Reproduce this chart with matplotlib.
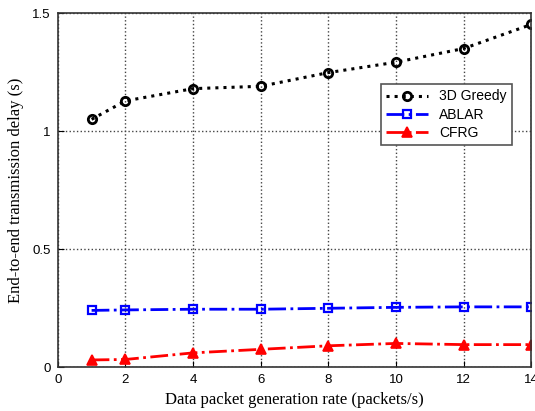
import matplotlib.pyplot as plt

# packet generation rates (packets/s)
rate = [1, 2, 4, 6, 8, 10, 12, 14]

# end-to-end delay (s) for each protocol
greedy = [1.05, 1.128, 1.18, 1.19, 1.248, 1.292, 1.35, 1.452]
ablar = [0.24, 0.242, 0.245, 0.245, 0.249, 0.253, 0.255, 0.255]
cfrg = [0.03, 0.032, 0.06, 0.075, 0.09, 0.1, 0.095, 0.095]

xticks = [0, 2, 4, 6, 8, 10, 12, 14]
yticks = [0, 0.5, 1, 1.5]

fig = plt.figure(figsize=(5.35, 4.11), dpi=100)
ax = fig.add_axes([0.108, 0.107, 0.885, 0.861])

ax.plot(rate, greedy, color="black", linestyle=":", linewidth=2.2,
        marker="o", markersize=6, markerfacecolor="none", markeredgewidth=2,
        label="3D Greedy")
ax.plot(rate, ablar, color="blue", linestyle="-.", linewidth=2,
        marker="s", markersize=6, markerfacecolor="none", markeredgewidth=1.6,
        label="ABLAR")
ax.plot(rate, cfrg, color="red", linestyle="-.", linewidth=2,
        marker="^", markersize=7, markerfacecolor="red", markeredgewidth=1.2,
        label="CFRG")

ax.set_xlim(0, 14)
ax.set_ylim(0, 1.5)
ax.set_xticks(xticks)
ax.set_yticks(yticks)
ax.set_yticklabels(["0", "0.5", "1", "1.5"])
ax.tick_params(direction="in", labelsize=9.5, length=4, pad=5)
for lab in ax.get_xticklabels() + ax.get_yticklabels():
    lab.set_fontfamily("Liberation Sans")
ax.grid(True, linestyle=":", color="#444444", linewidth=1)
for sp in ax.spines.values():
    sp.set_linewidth(1.2)
    sp.set_color("#333333")

ax.set_xlabel("Data packet generation rate (packets/s)", family="Liberation Serif",
              fontsize=12, labelpad=4)
ax.set_ylabel("End-to-end transmission delay (s)", family="Liberation Serif",
              fontsize=12, labelpad=6)

leg = ax.legend(loc="upper right", bbox_to_anchor=(0.96, 0.80), borderaxespad=0,
                prop={"family": "Liberation Sans", "size": 10},
                fancybox=False, edgecolor="#555555", framealpha=1,
                handlelength=3.0, borderpad=0.4, labelspacing=0.3)
leg.get_frame().set_linewidth(1.2)

fig.savefig("out.png", dpi=100)
